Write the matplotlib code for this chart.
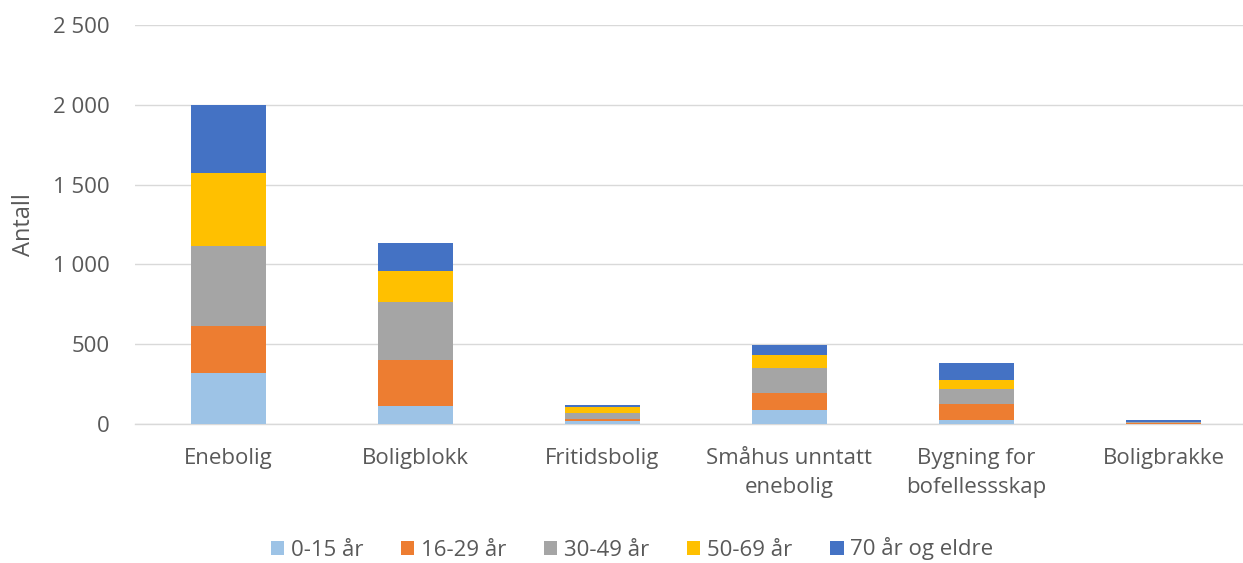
import matplotlib
matplotlib.use("Agg")
import matplotlib.pyplot as plt
import numpy as np
from matplotlib.ticker import FuncFormatter

categories = ["Enebolig", "Boligblokk", "Fritidsbolig", "Småhus unntatt\nenebolig", "Bygning for\nbofellessskap", "Boligbrakke"]
series_names = ["0-15 år", "16-29 år", "30-49 år", "50-69 år", "70 år og eldre"]
v_0_15 = [318, 115, 17, 86, 25, 2]
v_16_29 = [294, 286, 16, 108, 98, 3]
v_30_49 = [505, 362, 38, 159, 96, 5]
v_50_69 = [454, 194, 34, 79, 55, 2]
v_70 = [430, 175, 12, 63, 106, 10]
colors = ["#9DC3E6", "#ED7D31", "#A5A5A5", "#FFC000", "#4472C4"]

plt.rcParams['font.family'] = ['Open Sans', 'DejaVu Sans']
fig = plt.figure(figsize=(12.43, 5.63), dpi=100)
ax = fig.add_axes([135/1243, 1-424/563, 1122/1243, (424-25)/563])

x = np.arange(len(categories))
bottom = np.zeros(len(categories))
for name, vals, c in zip(series_names, [v_0_15, v_16_29, v_30_49, v_50_69, v_70], colors):
    ax.bar(x, vals, 0.4, bottom=bottom, color=c, label=name, zorder=3)
    bottom += np.array(vals)

ax.set_xlim(-0.5, len(categories) - 0.5)
ax.set_ylim(0, 2500)
ax.set_yticks(np.arange(0, 2501, 500))
ax.yaxis.set_major_formatter(FuncFormatter(lambda v, p: f"{int(v):,}".replace(",", " ")))
ax.grid(axis='y', color='#d9d9d9', linewidth=1, zorder=0)
for s in ['top', 'right', 'left']:
    ax.spines[s].set_visible(False)
ax.spines['bottom'].set_color('#d9d9d9')
ax.spines['bottom'].set_linewidth(1)
ax.tick_params(axis='both', length=0, labelsize=16, colors='#595959')
ax.tick_params(axis='y', pad=18)
ax.tick_params(axis='x', pad=17)
ax.set_xticks(x)
ax.set_xticklabels(categories, linespacing=1.55)
ax.set_ylabel("Antall", fontsize=17, color='#595959')
ax.yaxis.set_label_coords(-0.088, 0.5)

fig.legend(loc='center', bbox_to_anchor=(632/1243, 1-549/563), ncol=5, frameon=False,
           fontsize=16, handlelength=0.6, handleheight=0.6, handletextpad=0.3,
           columnspacing=1.7, labelcolor='#595959')

fig.savefig("out.png", dpi=100)
